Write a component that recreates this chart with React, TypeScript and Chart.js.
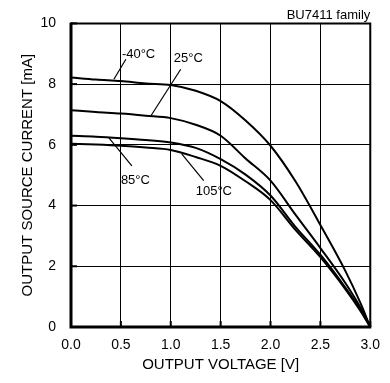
import React, { useEffect, useRef } from 'react';
import { Chart, registerables } from 'chart.js';

Chart.register(...registerables);

// ---- data ----
const voltages = [0, 0.25, 0.5, 0.75, 1.0, 1.25, 1.5, 1.75, 2.0, 2.25, 2.5, 2.75, 2.9, 3.0];
const currentM40 = [8.22, 8.15, 8.1, 8.02, 7.97, 7.78, 7.44, 6.8, 5.97, 4.8, 3.36, 1.85, 0.8, 0];
const current25 = [7.14, 7.08, 7.03, 6.96, 6.88, 6.66, 6.3, 5.55, 4.82, 3.7, 2.6, 1.45, 0.65, 0];
const current85 = [6.3, 6.27, 6.22, 6.16, 6.08, 5.9, 5.53, 5.02, 4.33, 3.3, 2.38, 1.3, 0.58, 0];
const current105 = [6.04, 6.01, 5.97, 5.91, 5.83, 5.6, 5.31, 4.8, 4.18, 3.2, 2.3, 1.25, 0.54, 0];

const seriesNames = ['-40°C', '25°C', '85°C', '105°C'];
const seriesValues = [currentM40, current25, current85, current105];

// curve labels (text anchor at left/middle, in data units) and their leader lines
const labelTexts = ['-40°C', '25°C', '85°C', '105°C'];
const labelV = [0.51, 1.03, 0.5, 1.25];
const labelI = [8.98, 8.84, 4.82, 4.46];
const leaderFromV = [0.55, 1.1, 0.61, 1.33];
const leaderFromI = [8.82, 8.49, 5.31, 4.82];
const leaderToV = [0.43, 0.8, 0.38, 1.11];
const leaderToI = [8.16, 6.95, 6.23, 5.7];

const xTickValues = [0, 0.5, 1.0, 1.5, 2.0, 2.5, 3.0];
const yTickValues = [0, 2, 4, 6, 8, 10];

const headerText = 'BU7411 family';
const xTitle = 'OUTPUT VOLTAGE [V]';
const yTitle = 'OUTPUT SOURCE CURRENT [mA]';

const FONT = '"Liberation Sans", Arial, Helvetica, sans-serif';

const decorPlugin = {
  id: 'decor',
  afterDatasetsDraw(chart: any) {
    const { ctx, chartArea: a, scales } = chart;
    const xs = scales.x;
    const ys = scales.y;
    ctx.save();
    ctx.strokeStyle = '#000';
    // small inward tick marks
    ctx.lineWidth = 2;
    xTickValues.forEach((v) => {
      const px = xs.getPixelForValue(v);
      ctx.beginPath();
      ctx.moveTo(px, a.bottom);
      ctx.lineTo(px, a.bottom - 6);
      ctx.stroke();
    });
    yTickValues.forEach((v) => {
      const py = ys.getPixelForValue(v);
      ctx.beginPath();
      ctx.moveTo(a.left, py);
      ctx.lineTo(a.left + 6, py);
      ctx.stroke();
    });
    // frame
    ctx.lineWidth = 2;
    ctx.beginPath();
    ctx.moveTo(a.left, a.top);
    ctx.lineTo(a.right, a.top);
    ctx.lineTo(a.right, a.bottom);
    ctx.stroke();
    ctx.lineWidth = 3;
    ctx.beginPath();
    ctx.moveTo(a.left, a.top - 1);
    ctx.lineTo(a.left, a.bottom);
    ctx.lineTo(a.right + 1, a.bottom);
    ctx.stroke();

    // leader lines
    ctx.lineWidth = 1.2;
    for (let i = 0; i < labelTexts.length; i++) {
      ctx.beginPath();
      ctx.moveTo(xs.getPixelForValue(leaderFromV[i]), ys.getPixelForValue(leaderFromI[i]));
      ctx.lineTo(xs.getPixelForValue(leaderToV[i]), ys.getPixelForValue(leaderToI[i]));
      ctx.stroke();
    }
    // labels
    ctx.fillStyle = '#000';
    ctx.font = `13px ${FONT}`;
    ctx.textAlign = 'left';
    ctx.textBaseline = 'middle';
    for (let i = 0; i < labelTexts.length; i++) {
      const px = xs.getPixelForValue(labelV[i]);
      const py = ys.getPixelForValue(labelI[i]);
      ctx.fillText(labelTexts[i], px, py);
    }
    // header
    ctx.textAlign = 'right';
    ctx.textBaseline = 'middle';
    ctx.fillText(headerText, a.right, a.top - 8);
    ctx.restore();
  },
};

export default function App() {
  const canvasRef = useRef<HTMLCanvasElement | null>(null);

  useEffect(() => {
    document.body.style.margin = '0';
    const canvas = canvasRef.current;
    if (!canvas) return;
    const chart = new Chart(canvas, {
      type: 'line',
      data: {
        datasets: seriesNames.map((name, si) => ({
          label: name,
          data: voltages.map((v, i) => ({ x: v, y: seriesValues[si][i] })),
          borderColor: '#000',
          borderWidth: 2,
          pointRadius: 0,
          fill: false,
          cubicInterpolationMode: 'monotone' as const,
        })),
      },
      options: {
        responsive: false,
        animation: false,
        events: [],
        layout: { padding: { top: 22, right: 17, left: 0, bottom: 0 } },
        plugins: {
          legend: { display: false },
          tooltip: { enabled: false },
          title: { display: false },
        },
        scales: {
          x: {
            type: 'linear',
            min: 0,
            max: 3,
            afterBuildTicks: (scale: any) => {
              scale.ticks = xTickValues.map((v) => ({ value: v }));
            },
            afterFit: (scale: any) => {
              scale.height = 56;
            },
            grid: { color: '#000', lineWidth: 1, drawTicks: false },
            border: { display: false },
            ticks: {
              color: '#000',
              padding: 10,
              maxRotation: 0,
              font: { family: FONT, size: 14 },
              callback: (v: any) => Number(v).toFixed(1),
            },
            title: {
              display: true,
              text: xTitle,
              color: '#000',
              font: { family: FONT, size: 15 },
              padding: { top: 0, bottom: 9 },
            },
          },
          y: {
            type: 'linear',
            min: 0,
            max: 10,
            afterBuildTicks: (scale: any) => {
              scale.ticks = yTickValues.map((v) => ({ value: v }));
            },
            afterFit: (scale: any) => {
              scale.width = 71;
            },
            grid: { color: '#000', lineWidth: 1, drawTicks: false },
            border: { display: false },
            ticks: {
              color: '#000',
              padding: 15,
              font: { family: FONT, size: 14 },
              callback: (v: any) => String(v),
            },
            title: {
              display: true,
              text: yTitle,
              color: '#000',
              font: { family: FONT, size: 15 },
              padding: { top: 19, bottom: 0 },
            },
          },
        },
      },
      plugins: [decorPlugin],
    });
    return () => chart.destroy();
  }, []);

  return (
    <div style={{ width: 390, height: 383, background: '#fff' }}>
      <canvas ref={canvasRef} width={390} height={383} />
    </div>
  );
}
